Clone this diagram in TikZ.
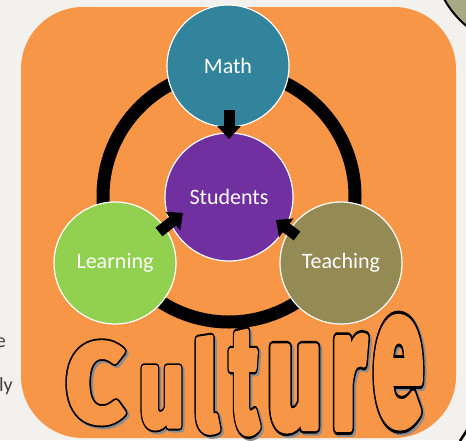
\documentclass[tikz,border=0pt]{standalone}
\usepackage{fontspec}
\usepackage{graphicx}
\usetikzlibrary{arrows.meta,calc}
\setmainfont{Carlito}
\newfontfamily\culturefont{Fira Sans}

\definecolor{pagebg}{HTML}{F3F1EE}
\definecolor{panelorange}{HTML}{F79646}
\definecolor{mathteal}{HTML}{31849B}
\definecolor{studpurple}{HTML}{7030A0}
\definecolor{learngreen}{HTML}{92D050}
\definecolor{teacholive}{HTML}{948A54}
\definecolor{sideolive}{HTML}{A6A985}
\definecolor{sidetext}{HTML}{404040}

\tikzset{
  topic/.style={circle, draw=white, line width=1.2pt, minimum size=#1,
    inner sep=0pt, text=white, font=\fontsize{22}{26}\selectfont},
  blockarrow/.style={line width=11pt, -{Triangle[width=23pt,length=13pt]}},
  ringline/.style={line width=13pt, draw=black},
  letterface/.style={anchor=south west, inner sep=0pt, text=panelorange,
    font=\culturefont\bfseries\fontsize{120}{120}\selectfont},
  sidenote/.style={inner sep=0pt, text=sidetext, font=\fontsize{20}{24}\selectfont}
}

% glyphs drawn with fill and stroke (text render mode 2) in raw PDF colours
\newcommand{\strokedtext}[2]{%
  \special{pdf:literal direct q 2 Tr 1 j #1}#2\special{pdf:literal direct Q}}

% one outlined, shadowed letter of the word, its glyph stretched to a box:
% name, left x, bottom y, glyph width, glyph height, glyph
% (the strokes add 5pt on every side)
\newcommand{\culletter}[6]{%
  \node[letterface] at (#2+7,#3-3)
    {\strokedtext{0.55 0.55 0.55 RG 0.55 0.55 0.55 rg 10 w}{\resizebox{#4pt}{#5pt}{#6}}};
  \node[letterface] (#1) at (#2+5,#3-5)
    {\rlap{\strokedtext{0 0 0 RG 0 0 0 rg 10 w}{\resizebox{#4pt}{#5pt}{#6}}}%
     \strokedtext{0.969 0.588 0.275 RG 0.969 0.588 0.275 rg 6 w}{\resizebox{#4pt}{#5pt}{#6}}};
}

\begin{document}
\begin{tikzpicture}[x=1pt,y=-1pt]
  \useasboundingbox (0,0) rectangle (466,440);
  \clip (0,0) rectangle (466,440);
  \fill[pagebg] (0,0) rectangle (466,440);

  % neighbouring shapes at the edges
  \draw[fill=sideolive, line width=2pt] (525,-45) circle[radius=92pt];
  \draw[line width=2.5pt] (460,441) -- (467,430);
  \node[sidenote, anchor=base east] (frag1) at (6,347) {e};
  \node[sidenote, anchor=base east] (frag2) at (13,391) {ly};

  % orange panel
  \fill[panelorange, rounded corners=62pt] (21,7) rectangle (456,438);

  % ring through the outer topics
  \draw[ringline] (229,196) circle[radius=126pt];

  % topics
  \node[topic=128pt, fill=studpurple] (students) at (229,197) {Students};
  \node[topic=122pt, fill=mathteal] (math) at (228,66) {Math};
  \node[topic=122pt, fill=learngreen] (learning) at (115,263) {Learning};
  \node[topic=122pt, fill=teacholive] (teaching) at (341,263) {Teaching};

  % arrows into the centre
  \draw[blockarrow] ($(math)+(1,44)$) -- ($(students)+(0,-58)$);
  \draw[blockarrow] ($(learning)+(44,-31)$) -- ($(students)+(-46,16)$);
  \draw[blockarrow] ($(teaching)+(-44,-27)$) -- ($(students)+(47,23)$);

  % the word along the bottom
  \culletter{lC}{61}{428}{58}{78}{C}
  \culletter{lu}{134}{433}{45}{58}{u}
  \culletter{ll}{188}{437}{25}{92}{l}
  \culletter{lt}{225}{438}{28}{98}{t}
  \culletter{lu2}{262}{435}{55}{80}{u}
  \culletter{lr}{326}{433}{35}{91}{r}
  \culletter{le}{368}{431}{50}{104}{e}
\end{tikzpicture}
\end{document}
